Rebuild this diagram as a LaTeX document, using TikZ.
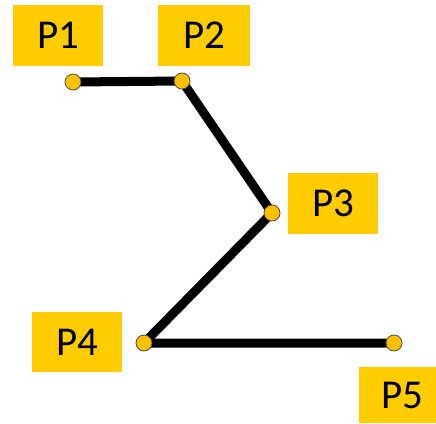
\documentclass[tikz,border=0pt]{standalone}
\usepackage{fontspec}
\setmainfont{Carlito}
\definecolor{lblyellow}{RGB}{255,204,0}
\definecolor{dotyellow}{RGB}{255,192,0}
\begin{document}
\begin{tikzpicture}[x=1pt,y=-1pt,
  lbl/.style={fill=lblyellow,inner sep=0pt,minimum height=61pt,minimum width=90pt,font=\fontsize{41}{41}\selectfont},
  pt/.style={circle,fill=dotyellow,draw=black!70,line width=0.8pt,minimum size=16pt,inner sep=0pt},
  seg/.style={line width=9pt,line join=round}]
\useasboundingbox (0,0) rectangle (436,423);
% labels
\node[lbl] (l1) at (58,35.5) {P1};
\node[lbl,minimum width=92pt] (l2) at (204,35.5) {P2};
\node[lbl] (l3) at (333,203.5) {P3};
\node[lbl,minimum height=60pt] (l4) at (77,342) {P4};
\node[lbl,minimum width=77pt,minimum height=56pt] (l5) at (397.5,395) {\hspace*{10pt}P5};
% points
\coordinate (c1) at (73,82);
\coordinate (c2) at (182,81);
\coordinate (c3) at (272,213);
\coordinate (c4) at (144,343);
\coordinate (c5) at (394,343);
\draw[seg] (c1) -- (c2) -- (c3) -- (c4) -- (c5);
\node[pt] (p1) at (c1) {};
\node[pt] (p2) at (c2) {};
\node[pt] (p3) at (c3) {};
\node[pt] (p4) at (c4) {};
\node[pt] (p5) at (c5) {};
\end{tikzpicture}
\end{document}
